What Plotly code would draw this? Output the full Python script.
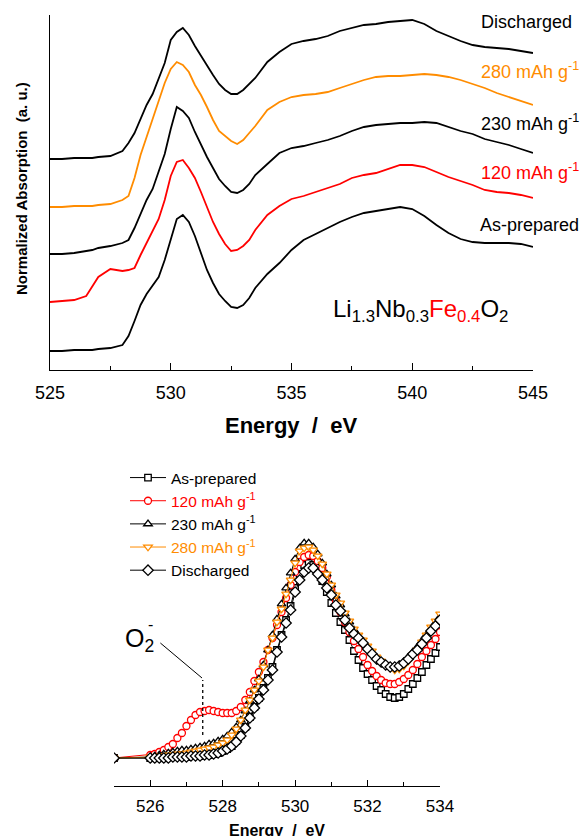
import plotly.graph_objects as go

# ---------------- Top panel data (stacked O K-edge spectra) ----------------
energy_top = [525, 525.5, 526, 526.5, 526.75, 527, 527.5, 528, 528.25, 528.5, 528.75,
              529, 529.25, 529.5, 529.75, 530, 530.25, 530.5, 530.75, 531, 531.25,
              531.5, 531.75, 532, 532.25, 532.5, 532.75, 533, 533.25, 533.5, 534,
              534.5, 535, 535.5, 536, 536.5, 537, 537.5, 538, 538.5, 539,
              539.5, 540, 540.5, 541, 541.5, 542, 542.5, 543, 543.5, 544,
              544.5, 545]

top_as_prepared = [0.19, 0.19, 0.20, 0.20, 0.20, 0.21, 0.22, 0.25, 0.34, 0.49, 0.65,
                   0.76, 0.85, 0.93, 1.10, 1.30, 1.51, 1.55, 1.48, 1.34, 1.18,
                   1.00, 0.87, 0.76, 0.69, 0.63, 0.62, 0.65, 0.72, 0.82, 0.96,
                   1.07, 1.20, 1.30, 1.36, 1.42, 1.48, 1.53, 1.57, 1.59, 1.61,
                   1.63, 1.61, 1.54, 1.45, 1.37, 1.31, 1.28, 1.27, 1.27, 1.27,
                   1.26, 1.23]
top_120 = [0.68, 0.69, 0.70, 0.74, 0.84, 0.93, 1.01, 0.99, 1.00, 1.02, 1.15,
           1.27, 1.38, 1.51, 1.70, 1.94, 2.08, 2.10, 2.02, 1.92, 1.78,
           1.63, 1.48, 1.36, 1.26, 1.19, 1.20, 1.24, 1.30, 1.40, 1.55,
           1.64, 1.71, 1.74, 1.78, 1.82, 1.86, 1.92, 1.95, 1.97, 2.01,
           2.05, 2.05, 2.03, 1.98, 1.93, 1.89, 1.85, 1.80, 1.78, 1.77,
           1.75, 1.72]
top_230 = [1.16, 1.16, 1.17, 1.19, 1.20, 1.22, 1.24, 1.27, 1.30, 1.42, 1.56,
           1.70, 1.81, 1.98, 2.16, 2.41, 2.63, 2.59, 2.52, 2.38, 2.25,
           2.13, 2.02, 1.91, 1.84, 1.78, 1.77, 1.80, 1.86, 1.95, 2.06,
           2.17, 2.22, 2.24, 2.27, 2.30, 2.34, 2.39, 2.43, 2.45, 2.46,
           2.47, 2.47, 2.48, 2.47, 2.43, 2.39, 2.36, 2.31, 2.28, 2.25,
           2.21, 2.17]
top_280 = [1.63, 1.63, 1.64, 1.64, 1.64, 1.65, 1.66, 1.70, 1.74, 1.92, 2.15,
           2.33, 2.51, 2.69, 2.87, 3.01, 3.08, 3.05, 2.98, 2.85, 2.75,
           2.63, 2.50, 2.39, 2.34, 2.29, 2.26, 2.30, 2.37, 2.44, 2.60,
           2.68, 2.73, 2.75, 2.76, 2.78, 2.82, 2.86, 2.90, 2.93, 2.94,
           2.94, 2.95, 2.96, 2.95, 2.93, 2.90, 2.86, 2.82, 2.77, 2.73,
           2.69, 2.65]
top_discharged = [2.11, 2.11, 2.12, 2.12, 2.12, 2.13, 2.14, 2.19, 2.27, 2.37, 2.51,
                  2.65, 2.76, 2.91, 3.07, 3.30, 3.38, 3.42, 3.35, 3.24, 3.14,
                  3.04, 2.95, 2.86, 2.80, 2.76, 2.76, 2.80, 2.86, 2.92, 3.08,
                  3.18, 3.26, 3.29, 3.31, 3.34, 3.39, 3.42, 3.45, 3.46, 3.48,
                  3.49, 3.50, 3.46, 3.39, 3.34, 3.29, 3.25, 3.23, 3.22, 3.21,
                  3.19, 3.17]

top_ticks = [525, 530, 535, 540, 545]

# ---------------- Bottom panel data (pre-edge overlay) ----------------
energy_bot = [525,
              526.0, 526.125, 526.25, 526.375, 526.5, 526.625, 526.75, 526.875,
              527.0, 527.125, 527.25, 527.375, 527.5, 527.625, 527.75, 527.875,
              528.0, 528.125, 528.25, 528.375, 528.5, 528.625, 528.75, 528.875,
              529.0, 529.125, 529.25, 529.375, 529.5, 529.625, 529.75, 529.875,
              530.0, 530.125, 530.25, 530.375, 530.5, 530.625, 530.75, 530.875,
              531.0, 531.125, 531.25, 531.375, 531.5, 531.625, 531.75, 531.875,
              532.0, 532.125, 532.25, 532.375, 532.5, 532.625, 532.75, 532.875,
              533.0, 533.125, 533.25, 533.375, 533.5, 533.625, 533.75, 533.875,
              534.0]

bot_as_prepared = [0.02,
                   0.02, 0.02, 0.02, 0.02, 0.03, 0.03, 0.03, 0.03,
                   0.03, 0.04, 0.04, 0.04, 0.05, 0.05, 0.06, 0.07,
                   0.09, 0.11, 0.14, 0.19, 0.25, 0.33, 0.43, 0.53,
                   0.62, 0.72, 0.82, 0.93, 1.10, 1.25, 1.40, 1.54,
                   1.72, 1.86, 1.95, 1.97, 1.95, 1.88, 1.79, 1.68,
                   1.57, 1.47, 1.38, 1.30, 1.20, 1.09, 1.00, 0.92,
                   0.86, 0.80, 0.74, 0.70, 0.66, 0.63, 0.62, 0.63,
                   0.66, 0.71, 0.76, 0.82, 0.88, 0.95, 1.01, 1.07,
                   1.13]
bot_120 = [0.02,
           0.05, 0.06, 0.08, 0.10, 0.13, 0.16, 0.22, 0.27,
           0.34, 0.40, 0.45, 0.48, 0.49, 0.50, 0.49, 0.48,
           0.47, 0.47, 0.47, 0.49, 0.53, 0.60, 0.68, 0.79,
           0.88, 0.98, 1.10, 1.22, 1.35, 1.48, 1.62, 1.75,
           1.88, 1.98, 2.03, 2.05, 2.04, 1.99, 1.92, 1.83,
           1.70, 1.59, 1.48, 1.38, 1.28, 1.19, 1.11, 1.03,
           0.95, 0.89, 0.84, 0.80, 0.77, 0.76, 0.76, 0.78,
           0.81, 0.85, 0.90, 0.96, 1.03, 1.09, 1.15, 1.21,
           1.28]
bot_230 = [0.02,
           0.03, 0.04, 0.05, 0.06, 0.07, 0.08, 0.09, 0.10,
           0.10, 0.11, 0.12, 0.13, 0.14, 0.16, 0.17, 0.19,
           0.21, 0.24, 0.28, 0.33, 0.40, 0.49, 0.59, 0.70,
           0.81, 0.95, 1.10, 1.25, 1.41, 1.56, 1.72, 1.87,
           2.01, 2.12, 2.17, 2.17, 2.13, 2.06, 1.97, 1.86,
           1.75, 1.64, 1.55, 1.46, 1.38, 1.30, 1.24, 1.18,
           1.12, 1.07, 1.02, 0.98, 0.95, 0.93, 0.93, 0.95,
           0.98, 1.03, 1.08, 1.13, 1.19, 1.25, 1.31, 1.37,
           1.43]
bot_280 = [0.02,
           0.03, 0.03, 0.04, 0.04, 0.05, 0.05, 0.06, 0.06,
           0.07, 0.08, 0.09, 0.10, 0.11, 0.12, 0.13, 0.15,
           0.17, 0.20, 0.25, 0.31, 0.40, 0.50, 0.60, 0.70,
           0.79, 0.93, 1.10, 1.22, 1.38, 1.51, 1.66, 1.80,
           1.97, 2.09, 2.12, 2.13, 2.10, 2.04, 1.96, 1.86,
           1.75, 1.65, 1.57, 1.47, 1.39, 1.31, 1.25, 1.20,
           1.14, 1.09, 1.03, 0.99, 0.95, 0.92, 0.90, 0.91,
           0.94, 0.99, 1.05, 1.10, 1.18, 1.25, 1.33, 1.39,
           1.46]
bot_discharged = [0.02,
                  0.02, 0.02, 0.02, 0.02, 0.02, 0.03, 0.03, 0.03,
                  0.03, 0.04, 0.04, 0.04, 0.05, 0.05, 0.06, 0.07,
                  0.09, 0.11, 0.14, 0.18, 0.24, 0.32, 0.42, 0.52,
                  0.61, 0.70, 0.80, 0.90, 1.08, 1.23, 1.37, 1.50,
                  1.68, 1.80, 1.88, 1.92, 1.92, 1.86, 1.80, 1.72,
                  1.65, 1.55, 1.49, 1.40, 1.32, 1.26, 1.22, 1.17,
                  1.11, 1.06, 1.01, 0.98, 0.95, 0.93, 0.93, 0.94,
                  0.97, 1.01, 1.06, 1.10, 1.16, 1.22, 1.29, 1.34,
                  1.40]

bot_ticks = [526, 528, 530, 532, 534]

# O2- marker position (energy, absorption)
o2_energy = 527.45
o2_low, o2_high = 0.25, 0.80

# ---------------- Styling ----------------
BLACK = "#000000"
RED = "#FF0000"
ORANGE = "#FF8C00"
FONT = "Liberation Sans, Arial, sans-serif"
W, H = 584, 836


def px(x):
    return x / W


def py(y):
    return (H - y) / H


fig = go.Figure()

top_series = [
    ("As-prepared", top_as_prepared, BLACK),
    ("120", top_120, RED),
    ("230", top_230, BLACK),
    ("280", top_280, ORANGE),
    ("Discharged", top_discharged, BLACK),
]
for name, vals, col in top_series:
    fig.add_trace(go.Scatter(x=energy_top, y=vals, mode="lines",
                             line=dict(color=col, width=1.8),
                             xaxis="x", yaxis="y", showlegend=False,
                             name=name))

bot_series = [
    ("As-prepared", bot_as_prepared, BLACK, "square", 6.5),
    ("<span style='color:#FF0000'>120 mAh g<sup>-1</sup></span>", bot_120, RED, "circle", 7),
    ("230 mAh g<sup>-1</sup>", bot_230, BLACK, "triangle-up", 7.5),
    ("<span style='color:#FF8C00'>280 mAh g<sup>-1</sup></span>", bot_280, ORANGE, "triangle-down", 7.5),
    ("Discharged", bot_discharged, BLACK, "diamond", 8),
]
for name, vals, col, sym, sz in bot_series:
    fig.add_trace(go.Scatter(x=energy_bot, y=vals, mode="lines+markers",
                             line=dict(color=col, width=1),
                             marker=dict(symbol=sym, size=sz, color="white",
                                         line=dict(color=col, width=1.3)),
                             xaxis="x2", yaxis="y2", name=name))

axis_common = dict(showgrid=False, zeroline=False, showline=True,
                   linecolor=BLACK, linewidth=1.3, mirror=False, automargin=False)

fig.update_layout(
    width=W, height=H,
    margin=dict(l=0, r=0, t=0, b=0, pad=0, autoexpand=False),
    paper_bgcolor="white", plot_bgcolor="white",
    font=dict(family=FONT, color=BLACK),
    xaxis=dict(domain=[px(50), px(533)], range=[525, 545], anchor="y",
               tickmode="array", tickvals=top_ticks, ticks="inside", ticklen=7,
               tickwidth=1.2, tickcolor=BLACK, ticklabelstandoff=6,
               tickfont=dict(size=18, family=FONT),
               minor=dict(dtick=2.5, tick0=525, ticks="inside", ticklen=4,
                          tickwidth=1.2, tickcolor=BLACK),
               **axis_common),
    yaxis=dict(domain=[py(370), py(15)], range=[0, 3.55], anchor="x",
               showticklabels=False, ticks="", **axis_common),
    xaxis2=dict(domain=[px(114), px(440)], range=[525, 534], anchor="y2",
                tickmode="array", tickvals=bot_ticks, ticks="inside", ticklen=6,
                tickwidth=1.2, tickcolor=BLACK, ticklabelstandoff=4,
                tickfont=dict(size=17, family=FONT),
                minor=dict(dtick=1, tick0=525, ticks="inside", ticklen=3.5,
                           tickwidth=1.2, tickcolor=BLACK),
                **axis_common),
    yaxis2=dict(domain=[py(786), py(460)], range=[-0.26, 3.0], anchor="x2",
                visible=False),
    legend=dict(x=px(125), y=py(461), xanchor="left", yanchor="top",
                bgcolor="rgba(0,0,0,0)", font=dict(size=15.5, family=FONT),
                tracegroupgap=0, itemwidth=36),
)

NB = "\u00a0"
annotations = [
    # axis titles
    dict(text="<b>Energy" + NB * 2 + "/" + NB * 2 + "eV</b>", x=px(291), y=py(425),
         font=dict(size=22)),
    dict(text="<b>Normalized Absorption" + NB * 2 + "(a. u.)</b>", x=px(21), y=py(189),
         textangle=-90, font=dict(size=15)),
    dict(text="<b>Energy" + NB * 2 + "/" + NB * 2 + "eV</b>", x=px(277), y=py(830),
         font=dict(size=16)),
    # curve labels (top)
    dict(text="Discharged", x=px(574), y=py(22), xanchor="right",
         font=dict(size=18, color=BLACK)),
    dict(text="280 mAh g<sup>-1</sup>", x=px(581), y=py(71), xanchor="right",
         font=dict(size=18, color=ORANGE)),
    dict(text="230 mAh g<sup>-1</sup>", x=px(581), y=py(122), xanchor="right",
         font=dict(size=18, color=BLACK)),
    dict(text="120 mAh g<sup>-1</sup>", x=px(581), y=py(172), xanchor="right",
         font=dict(size=18, color=RED)),
    dict(text="As-prepared", x=px(581), y=py(225), xanchor="right",
         font=dict(size=18, color=BLACK)),
    # formula
    dict(text="Li<sub>1.3</sub>Nb<sub>0.3</sub><span style='color:#FF0000'>Fe<sub>0.4</sub></span>O<sub>2</sub>",
         x=px(420), y=py(310), font=dict(size=24, color=BLACK)),
    # O2- label
    dict(text="O<sub>2</sub>", x=px(123), y=py(640), xanchor="left",
         font=dict(size=25, color=BLACK)),
    dict(text="-", x=px(150), y=py(624), font=dict(size=16, color=BLACK)),
]
for a in annotations:
    a.setdefault("xref", "paper")
    a.setdefault("yref", "paper")
    a.setdefault("showarrow", False)
    a.setdefault("yanchor", "middle")
    a.setdefault("xanchor", "center")
fig.update_layout(annotations=annotations)

fig.add_shape(type="line", xref="x2", yref="y2", x0=o2_energy, x1=o2_energy,
              y0=o2_low, y1=o2_high, line=dict(color=BLACK, width=1.3, dash="dot"))
fig.add_shape(type="line", xref="x2", yref="y2", x0=526.28, x1=o2_energy - 0.02,
              y0=1.17, y1=o2_high + 0.02, line=dict(color=BLACK, width=1))

fig.write_html(
    "out.html",
    config={"displayModeBar": False},
    post_script="document.documentElement.style.margin='0';"
                "document.body.style.margin='0';"
                "document.body.style.overflow='hidden';",
)
